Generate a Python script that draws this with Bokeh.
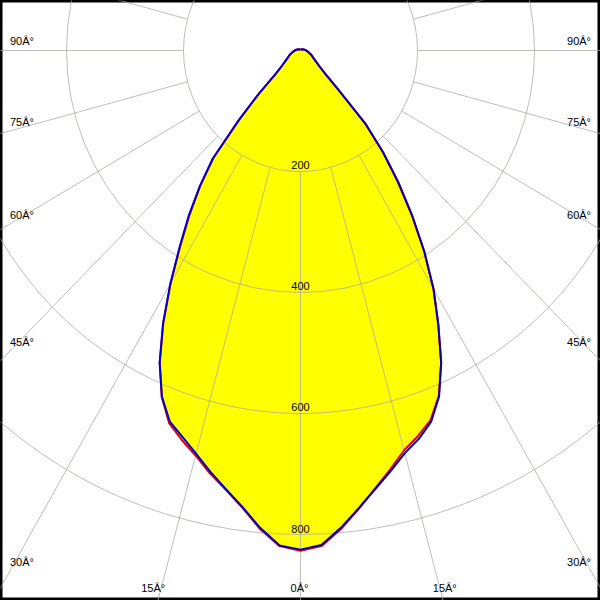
import math
from bokeh.plotting import figure
from bokeh.models import Range1d
from bokeh.embed import file_html
from bokeh.resources import INLINE
from bokeh.core.properties import value

# ---- data (luminous intensity vs gamma angle measured from nadir) ----
gamma = [0, 2.5, 5, 7.5, 10, 12.5, 15, 17.5, 20, 22.5, 25, 27.5, 30, 32.5, 35,
         37.5, 40, 42.5, 45, 47.5, 50, 60, 70, 80, 90, 100, 120, 150, 180]
c0 = [825, 818, 792, 763, 736, 712, 689, 673, 653, 619, 569, 510, 455, 394, 333,
      275, 220, 165, 91, 59, 45, 26, 19, 13, 10, 7, 4, 2, 1]
c180 = [825, 819, 792, 761, 736, 713, 690, 670, 653, 619, 570, 509, 445, 384, 333,
        283, 233, 156, 100, 59, 45, 26, 19, 13, 10, 7, 4, 2, 1]
c90 = [827, 820, 794, 764, 735, 709, 684, 668, 650, 618, 569, 510, 454, 393, 331,
       273, 219, 163, 90, 58, 45, 26, 19, 13, 10, 7, 4, 2, 1]
c270 = [827, 820, 794, 762, 737, 716, 693, 675, 656, 620, 569, 508, 444, 382, 330,
        281, 232, 156, 100, 58, 45, 26, 19, 13, 10, 7, 4, 2, 1]

ring_values = [200, 400, 600, 800]
ring_labels = ["200", "400", "600", "800"]
spoke_angles = list(range(0, 360, 15))
side_label_angles = [30, 45, 60, 75, 90]
bottom_label_angles = [0, 15]
deg_suffix = "Â°"

# ---- geometry ----
X0, X1 = -512.82, 512.82
Y0, Y1 = -909.09, 82.64
W = H = 600
kx = W / (X1 - X0)          # px per unit
ky = H / (Y1 - Y0)


def half(values, sign):
    xs, ys = [], []
    for g, r in zip(gamma, values):
        a = math.radians(g)
        xs.append(sign * r * math.sin(a))
        ys.append(-r * math.cos(a))
    return xs, ys


def plane(left_vals, right_vals):
    lx, ly = half(left_vals, -1)
    rx, ry = half(right_vals, 1)
    return lx[::-1] + rx[1:], ly[::-1] + ry[1:]


p = figure(width=W, height=H, x_range=Range1d(X0, X1), y_range=Range1d(Y0, Y1),
           toolbar_location=None, output_backend="svg", min_border=0)
p.axis.visible = False
p.grid.visible = False
p.outline_line_color = "black"
p.outline_line_width = 4
p.background_fill_color = "white"
p.border_fill_color = "white"

# yellow filled area (C0-C180 plane)
bx, by = plane(c180, c0)
p.patch(bx, by, fill_color="#ffff00", line_color=None)

# grid: rings and spokes (drawn over the fill)
grid_color = "#a8a8a0"
grid_alpha = 0.75
p.ellipse(x=[0] * len(ring_values), y=[0] * len(ring_values),
          width=[2 * r for r in ring_values], height=[2 * r for r in ring_values],
          fill_color=None, line_color=grid_color, line_alpha=grid_alpha, line_width=1)
r_in, r_out = ring_values[0], 1400
p.segment(x0=[r_in * math.sin(math.radians(a)) for a in spoke_angles],
          y0=[-r_in * math.cos(math.radians(a)) for a in spoke_angles],
          x1=[r_out * math.sin(math.radians(a)) for a in spoke_angles],
          y1=[-r_out * math.cos(math.radians(a)) for a in spoke_angles],
          line_color=grid_color, line_alpha=grid_alpha, line_width=1)

# curves
rx_, ry_ = plane(c270, c90)
p.line(rx_ + [rx_[0]], ry_ + [ry_[0]], line_color="#e00000", line_width=2)
p.line(bx + [bx[0]], by + [by[0]], line_color="#0000cc", line_width=2)

font = value("Liberation Sans")
fsize = "11px"

# ring labels
p.text(x=[0] * len(ring_values), y=[-r for r in ring_values], text=ring_labels,
       text_font=font, text_font_size=fsize, text_color="black",
       text_align="center", text_baseline="alphabetic", y_offset=-6)

# side angle labels (where each spoke meets the side edges)
inset = 9.5 / kx
xs_l, ys_l, txt = [], [], []
for a in side_label_angles:
    xe = X1 - inset
    ye = -xe / math.tan(math.radians(a)) if a != 90 else 0.0
    xs_l.append(xe)
    ys_l.append(ye)
    txt.append(f"{a}{deg_suffix}")
p.text(x=[-x for x in xs_l], y=ys_l, text=txt, text_font=font, text_font_size=fsize,
       text_color="black", text_align="left", text_baseline="alphabetic", y_offset=-9)
p.text(x=xs_l, y=ys_l, text=txt, text_font=font, text_font_size=fsize,
       text_color="black", text_align="right", text_baseline="alphabetic", y_offset=-9)

# bottom angle labels (where spokes meet the bottom edge)
yb = Y0 + 12.5 / ky
for a in bottom_label_angles:
    xb = -yb * math.tan(math.radians(a))
    sides = [(1, -1)] if a == 0 else [(-1, -8), (1, 5)]
    for s, dx in sides:
        p.text(x=[s * xb], y=[yb], text=[f"{a}{deg_suffix}"], text_font=font,
               text_font_size=fsize, text_color="black", text_align="center",
               text_baseline="alphabetic", x_offset=dx)

open("out.html", "w").write(file_html(p, INLINE))
